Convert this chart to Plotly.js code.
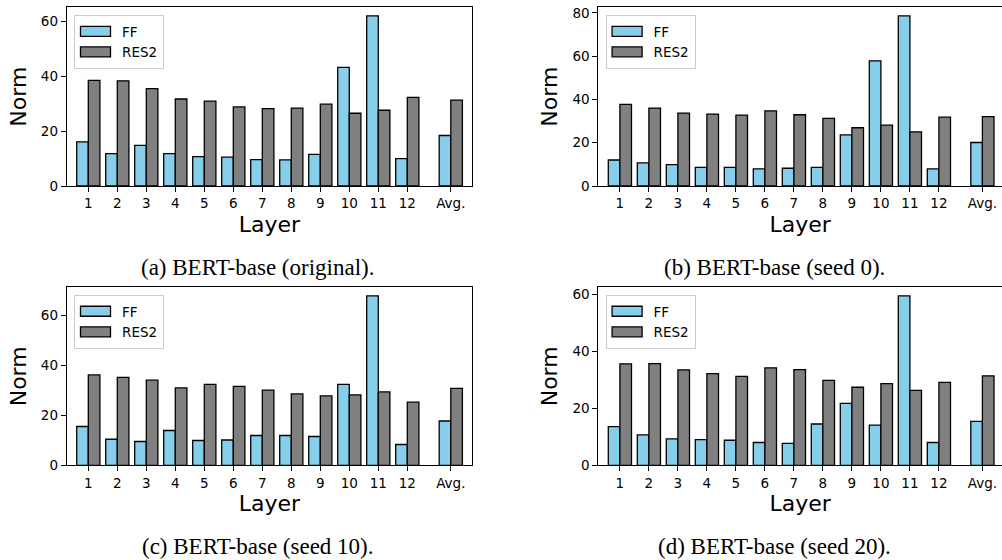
<!DOCTYPE html>
<html><head><meta charset="utf-8">
<script src="https://cdn.plot.ly/plotly-3.0.1.min.js"></script>
<style>html,body{margin:0;padding:0;background:#fff;overflow:hidden}#chart{width:1002px;height:560px}</style>
</head><body><div id="chart"></div>
<script>
// ---- data ----
const layers = ['1','2','3','4','5','6','7','8','9','10','11','12','Avg.'];
const seriesNames = ['FF','RES2'];
const ffA  = [16.1,11.8,14.8,11.8,10.7,10.5,9.6,9.5,11.5,43.2,62.0,10.0,18.4];
const resA = [38.5,38.3,35.5,31.7,30.9,28.8,28.2,28.4,29.8,26.5,27.6,32.3,31.3];
const ffB  = [12.0,10.7,9.9,8.6,8.6,7.9,8.2,8.6,23.6,57.8,78.6,7.9,20.1];
const resB = [37.7,36.0,33.7,33.2,32.7,34.7,32.9,31.2,26.9,28.1,25.0,31.8,32.0];
const ffC  = [15.5,10.4,9.5,13.9,9.9,10.1,11.9,11.9,11.5,32.3,67.7,8.3,17.7];
const resC = [36.1,35.1,34.0,30.9,32.3,31.5,30.0,28.5,27.7,28.1,29.3,25.2,30.7];
const ffD  = [13.6,10.7,9.3,9.0,8.8,8.0,7.7,14.5,21.7,14.1,59.5,8.0,15.4];
const resD = [35.6,35.7,33.5,32.2,31.2,34.2,33.6,29.8,27.4,28.7,26.3,29.1,31.4];
const captions = ['(a) BERT-base (original).','(b) BERT-base (seed 0).','(c) BERT-base (seed 10).','(d) BERT-base (seed 20).'];
const xTitle = 'Layer';
const yTitle = 'Norm';

// ---- layout geometry (pixels) ----
const W = 1002, H = 560;
const px = v => v / W, py = v => 1 - v / H;
const unit = 29; // px per category step
const panels = [
  {ff: ffA, res: resA, left: 66.7,  right: 472.3, top: 7.3,   bottom: 186.0, capX: 257.5, capY: 267, rightLine: true},
  {ff: ffB, res: resB, left: 598.3, right: 1002,  top: 7.3,   bottom: 186.0, capX: 774,   capY: 267, rightLine: false},
  {ff: ffC, res: resC, left: 66.7,  right: 472.3, top: 287.3, bottom: 465.3, capX: 257.5, capY: 546, rightLine: true},
  {ff: ffD, res: resD, left: 598.3, right: 1002,  top: 287.3, bottom: 465.3, capX: 774,   capY: 546, rightLine: false}
];
// category positions: layers at 0..11, the average set apart by half a step
const xpos = layers.map((l, i) => i < layers.length - 1 ? i : i + 0.5);

const tickFont = {family: 'DejaVu Sans', size: 13.5, color: '#000'};
const titleFont = {family: 'DejaVu Sans', size: 22, color: '#000'};
const colors = ['#87CEEB', '#808080'];

const data = [];
const layout = {
  width: W, height: H, margin: {l: 0, r: 0, t: 0, b: 0},
  paper_bgcolor: '#fff', plot_bgcolor: '#fff', showlegend: true,
  barmode: 'overlay', annotations: []
};

panels.forEach((p, k) => {
  const s = k === 0 ? '' : String(k + 1);
  const xmin = -21.6 / unit;
  const xmax = xmin + (p.right - p.left) / unit;
  const ymax = Math.max(...p.ff, ...p.res) * 1.05;
  [p.ff, p.res].forEach((vals, j) => {
    data.push({
      type: 'bar', x: xpos, y: vals, name: seriesNames[j],
      offset: j === 0 ? -0.4 : 0, width: 0.4,
      marker: {color: colors[j], line: {color: '#000', width: 1.3}},
      xaxis: 'x' + s, yaxis: 'y' + s, legend: 'legend' + s,
      hoverinfo: 'skip'
    });
  });
  layout['xaxis' + s] = {
    domain: [px(p.left), px(p.right)], anchor: 'y' + s, range: [xmin, xmax],
    tickmode: 'array', tickvals: xpos, ticktext: layers,
    ticks: 'outside', ticklen: 5, tickwidth: 1, tickcolor: '#000',
    showline: true, linecolor: '#000', linewidth: 1, mirror: true,
    showgrid: false, zeroline: false, tickfont: tickFont, fixedrange: true,
    title: {text: xTitle, font: titleFont, standoff: 6}
  };
  layout['yaxis' + s] = {
    domain: [py(p.bottom), py(p.top)], anchor: 'x' + s, range: [0, ymax],
    dtick: 20, tick0: 0,
    ticks: 'outside', ticklen: 5, tickwidth: 1, tickcolor: '#000',
    showline: true, linecolor: '#000', linewidth: 1, mirror: p.rightLine,
    showgrid: false, zeroline: false, tickfont: tickFont, fixedrange: true,
    title: {text: yTitle, font: titleFont, standoff: 8}
  };
  layout['legend' + s] = {
    x: px(p.left + 7.3), y: py(p.top + 7.7), xanchor: 'left', yanchor: 'top',
    bgcolor: 'rgba(255,255,255,0.8)', bordercolor: '#cccccc', borderwidth: 1,
    font: {family: 'DejaVu Sans', size: 13.5, color: '#000'},
    itemwidth: 37, tracegroupgap: 0, traceorder: 'normal'
  };
  layout.annotations.push({
    text: captions[k], xref: 'paper', yref: 'paper',
    x: px(p.capX), y: py(p.capY), xanchor: 'center', yanchor: 'middle',
    showarrow: false, font: {family: 'Liberation Serif', size: 23, color: '#000'}
  });
});

Plotly.newPlot('chart', data, layout, {staticPlot: true, displayModeBar: false}).then(gd => {
  // matplotlib-style wide legend patches
  gd.querySelectorAll('g.legendpoints path').forEach(el => {
    el.setAttribute('d', 'M12,5H-18V-5H12Z');
  });
});
</script>
</body></html>
